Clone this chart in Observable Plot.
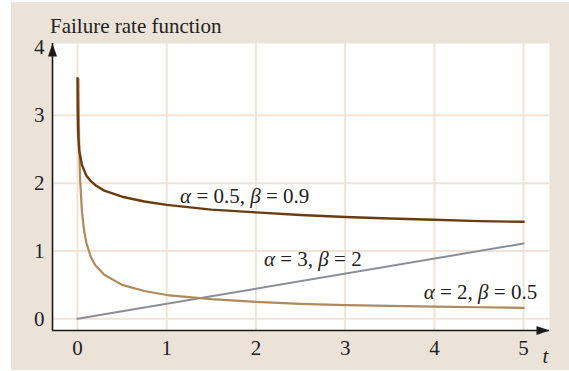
<!DOCTYPE html>
<html>
<head>
<meta charset="utf-8">
<script src="https://cdn.jsdelivr.net/npm/d3@7"></script>
<script src="https://cdn.jsdelivr.net/npm/@observablehq/plot@0.6"></script>
<style>
  html, body { margin: 0; padding: 0; background: #ffffff; }
  #wrap { position: relative; width: 569px; height: 371px; overflow: hidden; }
  #panel { position: absolute; left: 11px; top: 2px; width: 558px; height: 368px; background: #ece3d8; }
  #title { position: absolute; left: 50px; top: 16px; font: 21px/21px "Liberation Serif", serif; color: #222; white-space: nowrap; }
  #chart { position: absolute; left: 0; top: 0; }
</style>
</head>
<body>
<div id="wrap">
  <div id="panel"></div>
  <div id="title">Failure rate function</div>
  <div id="chart"></div>
</div>
<script>
// Weibull failure rate curves h(t)
const tA = [0.0006, 0.002, 0.005, 0.01, 0.02, 0.05, 0.1, 0.15, 0.2, 0.3, 0.5, 0.75, 1, 1.5, 2, 2.5, 3, 3.5, 4, 4.5, 5];
const hA = [3.55, 3.13, 2.85, 2.66, 2.48, 2.27, 2.11, 2.03, 1.97, 1.89, 1.80, 1.73, 1.68, 1.61, 1.57, 1.53, 1.50, 1.48, 1.46, 1.44, 1.43];

const tB = [0.01, 0.02, 0.03, 0.05, 0.075, 0.1, 0.15, 0.2, 0.3, 0.5, 0.75, 1, 1.5, 2, 2.5, 3, 3.5, 4, 4.5, 5];
const hB = [3.54, 2.50, 2.04, 1.58, 1.29, 1.12, 0.91, 0.79, 0.65, 0.50, 0.41, 0.35, 0.29, 0.25, 0.22, 0.20, 0.19, 0.18, 0.17, 0.16];

const tC = [0, 5];
const hC = [0, 1.11];

const seriesLabels = ["α = 0.5, β = 0.9", "α = 3, β = 2", "α = 2, β = 0.5"];
const xTicks = [0, 1, 2, 3, 4, 5];
const yTicks = [0, 1, 2, 3, 4];
const yGrid = [0, 1, 2, 3];

const toRows = (ts, hs) => ts.map((t, i) => ({t, h: hs[i]}));
const rowsA = toRows(tA, hA);
const rowsB = toRows(tB, hB);
const rowsC = toRows(tC, hC);

const xDomain = [-0.28, 5.29];
const yDomain = [-0.173, 4.06];
const gridColor = "#efe4d6";
const ink = "#1a1a1a";

// filled arrowhead with its tip at the origin, pointing up
const arrowHead = {
  draw(ctx) {
    ctx.moveTo(0, 0);
    ctx.lineTo(-4.5, 13);
    ctx.lineTo(4.5, 13);
    ctx.closePath();
  }
};

const chart = Plot.plot({
  width: 569,
  height: 371,
  marginLeft: 52,
  marginRight: 20,
  marginTop: 43,
  marginBottom: 41,
  x: {domain: xDomain},
  y: {domain: yDomain},
  style: {background: "transparent", fontFamily: "Liberation Serif, serif", fontSize: "21px", color: "#222"},
  marks: [
    Plot.frame({fill: "white", stroke: "none"}),
    Plot.gridX(xTicks, {stroke: gridColor, strokeOpacity: 1, strokeWidth: 2}),
    Plot.gridY(yGrid, {stroke: gridColor, strokeOpacity: 1, strokeWidth: 2}),
    Plot.axisX(xTicks, {tickSize: 0, tickPadding: 10, label: null, fontSize: 21, tickFormat: d3.format("d")}),
    Plot.axisY(yTicks, {tickSize: 0, tickPadding: 8, label: null, fontSize: 21, tickFormat: d3.format("d")}),
    Plot.line(rowsC, {x: "t", y: "h", stroke: "#8b8e99", strokeWidth: 2}),
    Plot.line(rowsB, {x: "t", y: "h", stroke: "#b08a5c", strokeWidth: 2.2}),
    Plot.line(rowsA, {x: "t", y: "h", stroke: "#6b3c0f", strokeWidth: 2.4}),
    Plot.text([seriesLabels[0]], {x: 1.15, y: 1.81, textAnchor: "start", fontSize: 21, fill: "#222"}),
    Plot.text([seriesLabels[1]], {x: 2.09, y: 0.88, textAnchor: "start", fontSize: 21, fill: "#222"}),
    Plot.text([seriesLabels[2]], {x: 3.88, y: 0.39, textAnchor: "start", fontSize: 21, fill: "#222"}),
    Plot.ruleX([xDomain[0]], {y1: yDomain[0], y2: yDomain[1], stroke: ink, strokeWidth: 1.6}),
    Plot.ruleY([yDomain[0]], {x1: xDomain[0], x2: xDomain[1], stroke: ink, strokeWidth: 1.6}),
    Plot.dot([0], {x: () => xDomain[0], y: () => yDomain[1], symbol: arrowHead, fill: ink, stroke: "none"}),
    Plot.dot([0], {x: () => xDomain[1], y: () => yDomain[0], symbol: arrowHead, fill: ink, stroke: "none", rotate: 90}),
    Plot.text(["t"], {frameAnchor: "bottom-right", textAnchor: "middle", lineAnchor: "middle", dx: -4, dy: 26, fontStyle: "italic", fontSize: 21, fill: "#222"})
  ]
});

// set the Greek parameter names in italics
d3.select(chart).selectAll("text").each(function () {
  const s = this.textContent;
  if (!/[αβ]/.test(s)) return;
  const el = d3.select(this);
  el.text(null);
  for (const part of s.split(/([αβ])/)) {
    if (!part) continue;
    el.append("tspan").attr("font-style", /[αβ]/.test(part) ? "italic" : null).text(part);
  }
});

document.getElementById("chart").appendChild(chart);
</script>
</body>
</html>
